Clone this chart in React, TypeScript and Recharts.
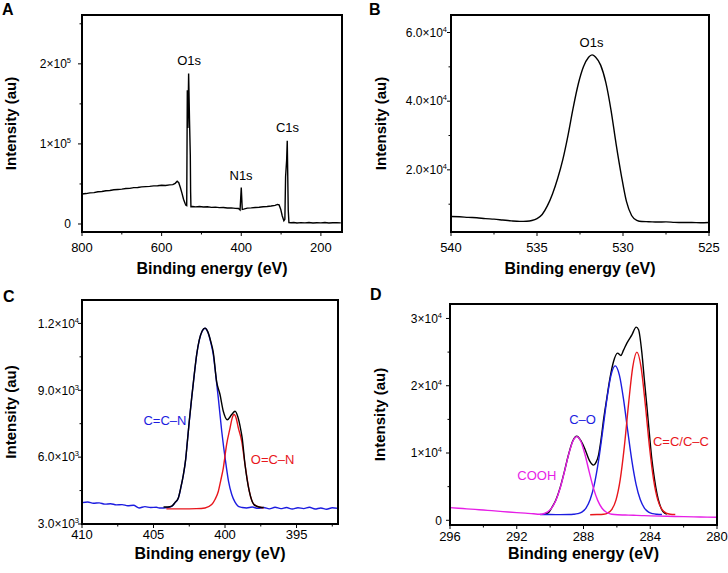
import React from "react";
import { LineChart, Line, XAxis, YAxis, ReferenceDot } from "recharts";

const FONT = '"Liberation Sans", Arial, Helvetica, sans-serif';
const BLUE = "#1c1ce0";
const RED = "#e8161c";
const MAGENTA = "#e61ee6";

// A: survey spectrum
const surveyEnergy = [
  800, 790, 780, 770, 760, 750, 740, 730, 720, 710, 700, 690, 680, 670, 660, 650, 640, 630, 620, 610,
  600, 590, 580, 572, 566, 561, 557, 553, 549, 545, 541, 539, 537, 535.5, 534, 532.2, 530, 528, 527.2,
  526.4, 522, 515, 505, 495, 485, 475, 465, 455, 445, 435, 425, 415, 407, 403, 400, 397.5, 394, 385,
  375, 365, 355, 345, 335, 325, 315, 309, 305, 301, 297, 293, 290.5, 288.7, 286, 284.5, 282, 280.3,
  275, 268, 260, 250, 240, 230, 220, 210, 200, 190, 180, 170, 160, 150,
];
const surveyCounts = [
  37500, 38000, 38900, 39200, 40300, 40600, 41500, 41800, 42700, 43100, 43600, 44300, 44500, 45400,
  45600, 46300, 46700, 47000, 47600, 47800, 48300, 48100, 48900, 49200, 50800, 53300, 51500, 45500,
  38500, 31000, 25500, 23500, 23000, 167000, 120000, 188000, 130000, 86000, 40000, 21600, 21800,
  21400, 21900, 21200, 21500, 20800, 21000, 20400, 20600, 19900, 20100, 19500, 19300, 17500, 45400,
  18300, 18600, 19800, 20100, 20600, 20900, 21500, 21800, 22400, 23200, 24400, 23800, 18500, 10000,
  4200, 6000, 59000, 80000, 104000, 17500, 1700, 1500, 1900, 1300, 1700, 1400, 1800, 1300, 1600,
  1400, 1800, 1300, 1600, 1500, 1400,
];

// B: O1s
const o1sEnergy = [
  540, 539.5, 539, 538.5, 538, 537.5, 537, 536.5, 536, 535.6, 535.3, 535, 534.7, 534.4, 534.1, 533.8,
  533.5, 533.2, 532.9, 532.6, 532.3, 532, 531.8, 531.6, 531.3, 531, 530.7, 530.4, 530.1, 529.8, 529.5,
  529.2, 528.9, 528.5, 528, 527.5, 527, 526.5, 526, 525.5, 525,
];
const o1sCounts = [
  6400, 6350, 6150, 6050, 5800, 5650, 5400, 5150, 5000, 5050, 5250, 5800, 7000, 9500, 13000, 17500,
  23000, 30000, 38000, 45000, 50000, 52800, 53500, 52900, 50500, 45500, 37500, 27500, 18500, 10800,
  6700, 5300, 4950, 4900, 4800, 4850, 4700, 4650, 4650, 4600, 4650,
];

// C: N1s
const n1sEnergy = [
  404.3, 404, 403.73, 403.5, 403.26, 403.1, 402.91, 402.75, 402.63, 402.5, 402.33, 402.15, 401.98,
  401.8, 401.6, 401.4, 401.2, 401, 400.82, 400.59, 400.35, 400.12, 399.84, 399.53, 399.3, 399.1,
  398.95, 398.8, 398.6, 398.3, 397.97, 397.55, 397.3,
];
const n1sCounts = [
  3760, 3760, 3800, 3960, 4180, 4610, 5220, 5910, 6720, 7610, 8670, 9710, 10610, 11260, 11660, 11790,
  11620, 11200, 10700, 9400, 8810, 8060, 7680, 7910, 8060, 7800, 7400, 6860, 5660, 4460, 3870, 3750,
  3740,
];
const ccnEnergy = [
  410, 409.6, 409.2, 408.8, 408.4, 408, 407.6, 407.2, 406.8, 406.4, 406, 405.6, 405.2, 404.8, 404.6,
  404.3, 404, 403.73, 403.5, 403.26, 403.1, 402.91, 402.75, 402.63, 402.5, 402.33, 402.15, 401.98,
  401.8, 401.6, 401.4, 401.2, 401, 400.82, 400.65, 400.47, 400.23, 399.93, 399.75, 399.53, 399.3,
  399.07, 398.8, 398.48, 398.1, 397.7, 397.3, 396.9, 396.5, 396.1, 395.7, 395.3, 394.9, 394.5, 394.1,
  393.7, 393.3, 392.9, 392.5, 392.1,
];
const ccnCounts = [
  3960, 3990, 3930, 3950, 3890, 3910, 3860, 3870, 3820, 3840, 3720, 3780, 3740, 3750, 3720, 3720,
  3740, 3790, 3950, 4170, 4600, 5210, 5900, 6710, 7600, 8660, 9700, 10600, 11250, 11650, 11780, 11600,
  11150, 10600, 9700, 8660, 7160, 5660, 4900, 4320, 3980, 3790, 3740, 3720, 3760, 3700, 3740, 3680,
  3750, 3690, 3740, 3670, 3730, 3690, 3750, 3670, 3720, 3660, 3730, 3700,
];
const ocnEnergy = [
  404.1, 403, 402, 401.4, 400.93, 400.7, 400.47, 400.3, 400.12, 399.89, 399.65, 399.5, 399.37, 399.2,
  399.07, 398.83, 398.6, 398.3, 397.97, 397.55, 397.3,
];
const ocnCounts = [
  3680, 3680, 3690, 3720, 3870, 4100, 4460, 4950, 5510, 6560, 7300, 7750, 7910, 7700, 7310, 6710,
  5660, 4460, 3870, 3750, 3720,
];

// D: C1s
const c1sEnergy = [
  290.3, 290.1, 289.9, 289.65, 289.4, 289.15, 288.9, 288.65, 288.4, 288.15, 287.9, 287.65, 287.4,
  287.25, 287.1, 286.95, 286.8, 286.6, 286.4, 286.2, 285.96, 285.76, 285.6, 285.4, 285.1, 284.84,
  284.7, 284.5, 284.35, 284.2, 284.05, 283.9, 283.75, 283.6, 283.45, 283.3, 283.15, 283,
];
const c1sCounts = [
  1000, 1150, 1900, 3050, 4850, 7200, 9750, 11750, 12500, 11800, 10500, 8900, 8200, 8600, 9700, 12000,
  14920, 18200, 21300, 23600, 24850, 24500, 25300, 26340, 27570, 28710, 28320, 24850, 20800, 16900,
  12800, 8970, 6200, 4010, 2500, 1530, 1100, 940,
];
const coEnergy = [
  290.6, 290, 289.4, 288.85, 288.6, 288.35, 288.1, 287.85, 287.6, 287.35, 287.1, 286.85, 286.6, 286.35,
  286.1, 285.85, 285.6, 285.35, 285.1, 284.85, 284.6, 284.35, 284.1, 283.85, 283.6, 283.3,
];
const coCounts = [
  860, 850, 840, 850, 890, 980, 1220, 1820, 3080, 5340, 8830, 13290, 17980, 21580, 22950, 21580, 17980,
  13290, 8830, 5340, 3080, 1820, 1220, 980, 890, 850,
];
const ccEnergy = [
  287.6, 287.2, 286.8, 286.55, 286.3, 286.05, 285.8, 285.55, 285.3, 285.05, 284.8, 284.55, 284.3,
  284.05, 283.8, 283.55, 283.3, 283.05, 282.8, 282.5,
];
const ccCounts = [
  830, 850, 900, 1070, 1610, 3030, 6040, 11020, 17300, 22780, 25000, 22780, 17300, 11020, 6040, 3030,
  1610, 1070, 900, 850,
];
const coohEnergy = [
  296, 295.5, 295, 294.5, 294, 293.5, 293, 292.5, 292, 291.5, 291, 290.65, 290.4, 290.15, 289.9,
  289.65, 289.4, 289.15, 288.9, 288.65, 288.4, 288.15, 287.9, 287.65, 287.4, 287.15, 286.9, 286.65,
  286.4, 286.15, 285.5, 285, 284.5, 284, 283, 282, 281, 280,
];
const coohCounts = [
  1880, 1800, 1700, 1620, 1520, 1430, 1330, 1230, 1140, 1060, 980, 900, 980, 1250, 1850, 2980, 4760,
  7140, 9680, 11680, 12430, 11670, 9660, 7120, 4740, 2960, 1830, 1230, 950, 850, 780, 740, 700, 650,
  600, 540, 490, 450,
];

// axis ticks ("" = minor tick, "^" marks a superscript)
const xTicksA = [800, 700, 600, 500, 400, 300, 200];
const xLabelsA = ["800", "", "600", "", "400", "", "200"];
const yTicksA = [0, 50000, 100000, 150000, 200000, 250000];
const yLabelsA = ["0", "", "1×10^5", "", "2×10^5", ""];
const xTicksB = [540, 537.5, 535, 532.5, 530, 527.5, 525];
const xLabelsB = ["540", "", "535", "", "530", "", "525"];
const yTicksB = [10000, 20000, 30000, 40000, 50000, 60000];
const yLabelsB = ["", "2.0×10^4", "", "4.0×10^4", "", "6.0×10^4"];
const xTicksC = [410, 407.5, 405, 402.5, 400, 397.5, 395, 392.5];
const xLabelsC = ["410", "", "405", "", "400", "", "395", ""];
const yTicksC = [3000, 4500, 6000, 7500, 9000, 10500, 12000];
const yLabelsC = ["3.0×10^3", "", "6.0×10^3", "", "9.0×10^3", "", "1.2×10^4"];
const xTicksD = [296, 294, 292, 290, 288, 286, 284, 282, 280];
const xLabelsD = ["296", "", "292", "", "288", "", "284", "", "280"];
const yTicksD = [0, 5000, 10000, 15000, 20000, 25000, 30000];
const yLabelsD = ["0", "", "1×10^4", "", "2×10^4", "", "3×10^4"];

const rows = (xs: number[], ys: number[]) => xs.map((e, i) => ({ e, v: ys[i] }));

type Curve = { rows: { e: number; v: number }[]; color: string; kind: "linear" | "monotone" };
type Note = { e: number; v: number; text: string; color: string };

const XTick = (props: any) => {
  const { x, y, payload, ticks, labels, dy } = props;
  const text = labels[ticks.indexOf(payload.value)] || "";
  const major = text !== "";
  return (
    <g>
      <line x1={x} x2={x} y1={y} y2={y + (major ? 4 : 2.5)} stroke="#000" strokeWidth={1} />
      {major && (
        <text x={x} y={y + dy} textAnchor="middle" fontSize={13} fill="#000">
          {text}
        </text>
      )}
    </g>
  );
};

const YTick = (props: any) => {
  const { x, y, payload, ticks, labels, gap } = props;
  const text: string = labels[ticks.indexOf(payload.value)] || "";
  const major = text !== "";
  const [base, exp] = text.split("^");
  return (
    <g>
      <line x1={x - (major ? 4 : 2.5)} x2={x} y1={y} y2={y} stroke="#000" strokeWidth={1} />
      {major && (
        <text x={x - gap} y={y + 4.3} textAnchor="end" fontSize={12} fill="#000">
          {base}
          {exp && (
            <tspan dy={-5} fontSize={7.5}>
              {exp}
            </tspan>
          )}
        </text>
      )}
    </g>
  );
};

type PanelProps = {
  left: number;
  top: number;
  width: number;
  height: number;
  margin: { top: number; right: number; bottom: number; left: number };
  yAxisWidth: number;
  xAxisHeight: number;
  xDomain: [number, number];
  yDomain: [number, number];
  xTicks: number[];
  xLabels: string[];
  yTicks: number[];
  yLabels: string[];
  xTickDy: number;
  yTickGap: number;
  xTitleOffset: number;
  yTitleX: number;
  curves: Curve[];
  notes: Note[];
};

const frameLine = { stroke: "#000", strokeWidth: 1.5 };

const Panel = (p: PanelProps) => {
  // plot box, for the closed frame drawn over the chart
  const boxLeft = p.margin.left + p.yAxisWidth;
  const boxTop = p.margin.top;
  const boxW = p.width - p.margin.right - boxLeft;
  const boxH = p.height - p.margin.bottom - p.xAxisHeight - boxTop;
  return (
    <div style={{ position: "absolute", left: p.left, top: p.top, width: p.width, height: p.height }}>
      <LineChart width={p.width} height={p.height} margin={p.margin}>
        <XAxis
          type="number"
          dataKey="e"
          domain={p.xDomain}
          reversed
          allowDataOverflow
          ticks={p.xTicks}
          interval={0}
          tickSize={0}
          tickMargin={0}
          tickLine={false}
          height={p.xAxisHeight}
          axisLine={frameLine}
          tick={(t: any) => <XTick {...t} ticks={p.xTicks} labels={p.xLabels} dy={p.xTickDy} />}
          label={{
            value: "Binding energy (eV)",
            position: "insideBottom",
            offset: p.xTitleOffset,
            style: { fontWeight: "bold", fontSize: 16, fill: "#000" },
          }}
        />
        <YAxis
          type="number"
          domain={p.yDomain}
          allowDataOverflow
          ticks={p.yTicks}
          interval={0}
          tickSize={0}
          tickMargin={0}
          tickLine={false}
          width={p.yAxisWidth}
          axisLine={frameLine}
          tick={(t: any) => <YTick {...t} ticks={p.yTicks} labels={p.yLabels} gap={p.yTickGap} />}
          label={{
            value: "Intensity (au)",
            angle: -90,
            position: "insideLeft",
            offset: p.yTitleX,
            style: { textAnchor: "middle", fontWeight: "bold", fontSize: 15, fill: "#000" },
          }}
        />
        {p.curves.map((c, i) => (
          <Line
            key={i}
            data={c.rows}
            dataKey="v"
            type={c.kind}
            stroke={c.color}
            strokeWidth={1.4}
            dot={false}
            activeDot={false}
            isAnimationActive={false}
          />
        ))}
        {p.notes.map((n, i) => (
          <ReferenceDot
            key={"n" + i}
            x={n.e}
            y={n.v}
            r={0}
            fill="none"
            stroke="none"
            label={{ value: n.text, position: "center", fill: n.color, fontSize: 13 }}
          />
        ))}
      </LineChart>
      <svg
        width={p.width}
        height={p.height}
        style={{ position: "absolute", left: 0, top: 0, pointerEvents: "none" }}
      >
        <rect
          x={Math.round(boxLeft)}
          y={Math.round(boxTop)}
          width={Math.round(boxW)}
          height={Math.round(boxH)}
          fill="none"
          stroke="#000"
          strokeWidth={2}
          shapeRendering="crispEdges"
        />
      </svg>
    </div>
  );
};

const letterStyle = (left: number, top: number): React.CSSProperties => ({
  position: "absolute",
  left,
  top,
  fontWeight: "bold",
  fontSize: 16,
  lineHeight: "16px",
});

export default function App() {
  return (
    <div
      style={{
        position: "absolute",
        left: 0,
        top: 0,
        width: 728,
        height: 573,
        background: "#fff",
        fontFamily: FONT,
        overflow: "hidden",
      }}
    >
      <Panel
        left={0}
        top={0}
        width={364}
        height={285}
        margin={{ top: 15, right: 22, bottom: 0, left: 0 }}
        yAxisWidth={82}
        xAxisHeight={53}
        xDomain={[147, 800]}
        yDomain={[-10000, 261000]}
        xTicks={xTicksA}
        xLabels={xLabelsA}
        yTicks={yTicksA}
        yLabels={yLabelsA}
        xTickDy={20}
        yTickGap={11}
        xTitleOffset={11}
        yTitleX={11}
        curves={[{ rows: rows(surveyEnergy, surveyCounts), color: "#000", kind: "linear" }]}
        notes={[
          { e: 531, v: 203750, text: "O1s", color: "#000" },
          { e: 400.5, v: 61250, text: "N1s", color: "#000" },
          { e: 284, v: 120400, text: "C1s", color: "#000" },
        ]}
      />
      <Panel
        left={364}
        top={0}
        width={364}
        height={285}
        margin={{ top: 15, right: 19, bottom: 0, left: 0 }}
        yAxisWidth={87}
        xAxisHeight={53}
        xDomain={[525, 540]}
        yDomain={[1900, 65100]}
        xTicks={xTicksB}
        xLabels={xLabelsB}
        yTicks={yTicksB}
        yLabels={yLabelsB}
        xTickDy={20}
        yTickGap={4}
        xTitleOffset={11}
        yTitleX={17}
        curves={[{ rows: rows(o1sEnergy, o1sCounts), color: "#000", kind: "monotone" }]}
        notes={[{ e: 531.83, v: 57060, text: "O1s", color: "#000" }]}
      />
      <Panel
        left={0}
        top={285}
        width={364}
        height={288}
        margin={{ top: 15, right: 26, bottom: 0, left: 0 }}
        yAxisWidth={82}
        xAxisHeight={49}
        xDomain={[392.1, 410]}
        yDomain={[3000, 13050]}
        xTicks={xTicksC}
        xLabels={xLabelsC}
        yTicks={yTicksC}
        yLabels={yLabelsC}
        xTickDy={15}
        yTickGap={3}
        xTitleOffset={14}
        yTitleX={11}
        curves={[
          { rows: rows(ccnEnergy, ccnCounts), color: BLUE, kind: "monotone" },
          { rows: rows(ocnEnergy, ocnCounts), color: RED, kind: "monotone" },
          { rows: rows(n1sEnergy, n1sCounts), color: "#000", kind: "monotone" },
        ]}
        notes={[
          { e: 404.2, v: 7640, text: "C=C–N", color: BLUE },
          { e: 396.67, v: 5920, text: "O=C–N", color: RED },
        ]}
      />
      <Panel
        left={364}
        top={285}
        width={364}
        height={288}
        margin={{ top: 19, right: 11, bottom: 0, left: 0 }}
        yAxisWidth={86}
        xAxisHeight={48}
        xDomain={[280, 296]}
        yDomain={[-700, 32150]}
        xTicks={xTicksD}
        xLabels={xLabelsD}
        yTicks={yTicksD}
        yLabels={yLabelsD}
        xTickDy={16}
        yTickGap={8}
        xTitleOffset={14}
        yTitleX={16}
        curves={[
          { rows: rows(c1sEnergy, c1sCounts), color: "#000", kind: "monotone" },
          { rows: rows(coEnergy, coCounts), color: BLUE, kind: "monotone" },
          { rows: rows(ccEnergy, ccCounts), color: RED, kind: "monotone" },
          { rows: rows(coohEnergy, coohCounts), color: MAGENTA, kind: "monotone" },
        ]}
        notes={[
          { e: 288.06, v: 15030, text: "C–O", color: BLUE },
          { e: 282.16, v: 11800, text: "C=C/C–C", color: RED },
          { e: 290.8, v: 6740, text: "COOH", color: MAGENTA },
        ]}
      />
      <div style={letterStyle(2, 1.5)}>A</div>
      <div style={letterStyle(369, 1.5)}>B</div>
      <div style={letterStyle(3, 288.5)}>C</div>
      <div style={letterStyle(370, 286.5)}>D</div>
    </div>
  );
}
